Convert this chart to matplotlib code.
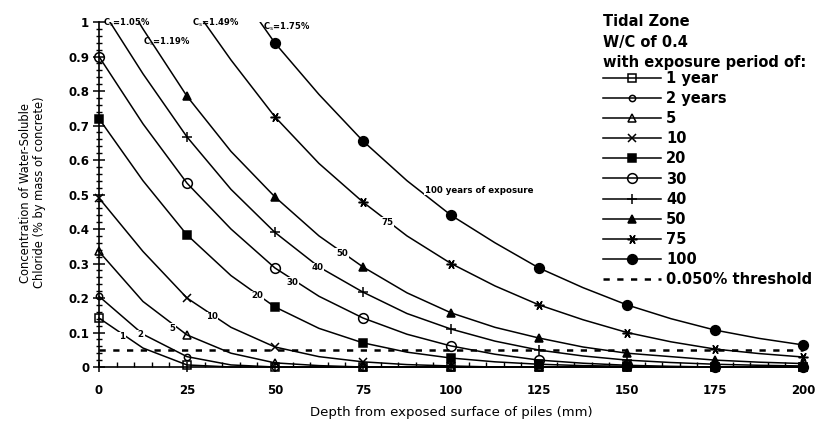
import numpy as np
import matplotlib.pyplot as plt
from matplotlib.lines import Line2D
from matplotlib.ticker import FixedLocator

# depth from exposed surface (mm); markers sit on every second point (25 mm)
depth = [0, 12.5, 25, 37.5, 50, 62.5, 75, 87.5, 100, 112.5, 125, 137.5, 150, 162.5, 175, 187.5, 200]

# chloride concentration (% by mass of concrete)
conc_1yr = [0.142, 0.055, 0.006, 0, 0, 0, 0, 0, 0, 0, 0, 0, 0, 0, 0, 0, 0]
conc_2yr = [0.205, 0.095, 0.030, 0.006, 0, 0, 0, 0, 0, 0, 0, 0, 0, 0, 0, 0, 0]
conc_5yr = [0.335, 0.190, 0.093, 0.040, 0.012, 0.004, 0, 0, 0, 0, 0, 0, 0, 0, 0, 0, 0]
conc_10yr = [0.490, 0.335, 0.200, 0.115, 0.058, 0.030, 0.015, 0.007, 0.003, 0, 0, 0, 0, 0, 0, 0, 0]
conc_20yr = [0.720, 0.540, 0.383, 0.265, 0.174, 0.112, 0.070, 0.043, 0.026, 0.015, 0.008, 0.004, 0.002, 0, 0, 0, 0]
conc_30yr = [0.900, 0.705, 0.533, 0.400, 0.287, 0.205, 0.142, 0.095, 0.061, 0.037, 0.020, 0.011, 0.005, 0.002, 0, 0, 0]
conc_40yr = [1.05, 0.850, 0.667, 0.515, 0.390, 0.290, 0.217, 0.155, 0.110, 0.075, 0.049, 0.032, 0.020, 0.013, 0.008, 0.005, 0.003]
conc_50yr = [1.19, 0.980, 0.785, 0.625, 0.493, 0.380, 0.290, 0.215, 0.157, 0.115, 0.084, 0.058, 0.040, 0.030, 0.020, 0.014, 0.010]
conc_75yr = [1.49, 1.27, 1.07, 0.890, 0.725, 0.590, 0.478, 0.380, 0.300, 0.235, 0.180, 0.137, 0.100, 0.073, 0.052, 0.039, 0.029]
conc_100yr = [1.75, 1.52, 1.32, 1.12, 0.939, 0.790, 0.655, 0.540, 0.440, 0.360, 0.287, 0.230, 0.180, 0.140, 0.107, 0.083, 0.064]

threshold = 0.05
exposure_labels = ["1 year", "2 years", "5", "10", "20", "30", "40", "50", "75", "100"]
curve_tags = ["1", "2", "5", "10", "20", "30", "40", "50", "75", "100 years of exposure"]
surface_cs = ["1.05", "1.19", "1.49", "1.75"]

x_ticks = [0, 25, 50, 75, 100, 125, 150, 175, 200]
y_ticks = [0, 0.1, 0.2, 0.3, 0.4, 0.5, 0.6, 0.7, 0.8, 0.9, 1.0]
y_ticklabels = ["0", "0.1", "0.2", "0.3", "0.4", "0.5", "0.6", "0.7", "0.8", "0.9", "1"]

series = [conc_1yr, conc_2yr, conc_5yr, conc_10yr, conc_20yr,
          conc_30yr, conc_40yr, conc_50yr, conc_75yr, conc_100yr]

# marker style per series: (marker, size, filled)
styles = [("s", 6, False), ("o", 4.5, False), ("^", 6, False), ("x", 6, True),
          ("s", 6, True), ("o", 7, False), ("+", 7, True), ("^", 6, True),
          ((6, 2, 90), 7, True), ("o", 7, True)]

# inline tag positions (data coords)
tag_pos = [(6.5, 0.087), (11.9, 0.093), (20.7, 0.113), (32, 0.145), (45, 0.206),
           (55, 0.246), (62, 0.287), (69, 0.33), (82, 0.42), (92.5, 0.513)]
cs_pos = [(1.2, 0.997), (12.5, 0.942), (26.5, 0.997), (46.5, 0.986)]

fig = plt.figure(figsize=(8.2, 4.25), dpi=100)
ax = fig.add_axes([0.1078, 0.1121, 0.8844, 0.8361])
ax.set_xlim(-3, 203)
ax.set_ylim(-0.03, 1.0)

handles = []
for vals, (mk, ms, filled) in zip(series, styles):
    mfc = "black" if filled else "none"
    ax.plot(depth, vals, color="black", lw=1.1, zorder=2)
    ax.plot(depth[::2], vals[::2], ls="none", marker=mk, ms=ms, mfc=mfc,
            mec="black", mew=1.1, color="black", zorder=3)
    handles.append(Line2D([], [], color="black", lw=1.1, marker=mk, ms=ms,
                          mfc=mfc, mec="black", mew=1.1))

ax.plot(depth, [threshold] * len(depth), color="black", lw=1.8,
        ls=(0, (2.5, 3)), zorder=2)
handles.append(Line2D([], [], color="black", lw=1.8, ls=(0, (2.5, 3))))

for tag, (tx, ty) in zip(curve_tags, tag_pos):
    ha = "left" if len(tag) > 3 else "center"
    ax.text(tx, ty, tag, fontsize=6.2, fontweight="bold", ha=ha, va="center",
            zorder=5, bbox=dict(fc="white", ec="none", pad=0.6))

for cs, (tx, ty) in zip(surface_cs, cs_pos):
    ax.text(tx, ty, "C$_\\mathrm{s}$=" + cs + "%", fontsize=6, fontweight="bold",
            ha="left", va="center", zorder=5)

# axes styling
ax.spines["top"].set_visible(False)
ax.spines["right"].set_visible(False)
ax.spines["left"].set_position(("data", 0))
ax.spines["bottom"].set_position(("data", 0))
ax.spines["left"].set_bounds(0, 1.0)
ax.spines["bottom"].set_bounds(0, 200)
ax.spines["left"].set_linewidth(1.2)
ax.spines["bottom"].set_linewidth(1.2)

ax.set_xticks(x_ticks)
ax.set_yticks(y_ticks, y_ticklabels)
ax.yaxis.set_minor_locator(FixedLocator(np.arange(0, 1.001, 0.02)))
ax.xaxis.set_minor_locator(FixedLocator(np.arange(0, 201, 5)))
ax.tick_params(axis="y", which="major", direction="inout", length=8, width=1.1, pad=3, labelsize=8.5)
ax.tick_params(axis="y", which="minor", direction="inout", length=4, width=1)
ax.tick_params(axis="x", which="major", direction="inout", length=7, width=1.1, pad=9, labelsize=8.5)
ax.tick_params(axis="x", which="minor", direction="in", length=3.5, width=1)
for lbl in ax.get_xticklabels() + ax.get_yticklabels():
    lbl.set_fontweight("bold")

ax.set_xlabel("Depth from exposed surface of piles (mm)", fontsize=9.5)
ax.xaxis.set_label_coords(0.5, -0.08)
ax.set_ylabel("Concentration of Water-Soluble\nChloride (% by mass of concrete)",
              fontsize=8.3, linespacing=1.15)
ax.yaxis.set_label_coords(-0.058, 0.52)

# legend block on the right
fig.text(0.735, 1 - 22 / 425, "Tidal Zone", fontsize=10.5, fontweight="bold", va="center")
fig.text(0.735, 1 - 42 / 425, "W/C of 0.4", fontsize=10.5, fontweight="bold", va="center")
fig.text(0.735, 1 - 62 / 425, "with exposure period of:", fontsize=10.5, fontweight="bold", va="center")
leg = ax.legend(handles, exposure_labels + ["0.050% threshold"], loc="upper left",
                bbox_to_anchor=(0.735, 1 - 71 / 425), bbox_transform=fig.transFigure,
                frameon=False, handlelength=4.0, handletextpad=0.35, labelspacing=0.35,
                borderpad=0, borderaxespad=0,
                prop={"size": 10.5, "weight": "bold"})

fig.savefig("out.png", dpi=100)
